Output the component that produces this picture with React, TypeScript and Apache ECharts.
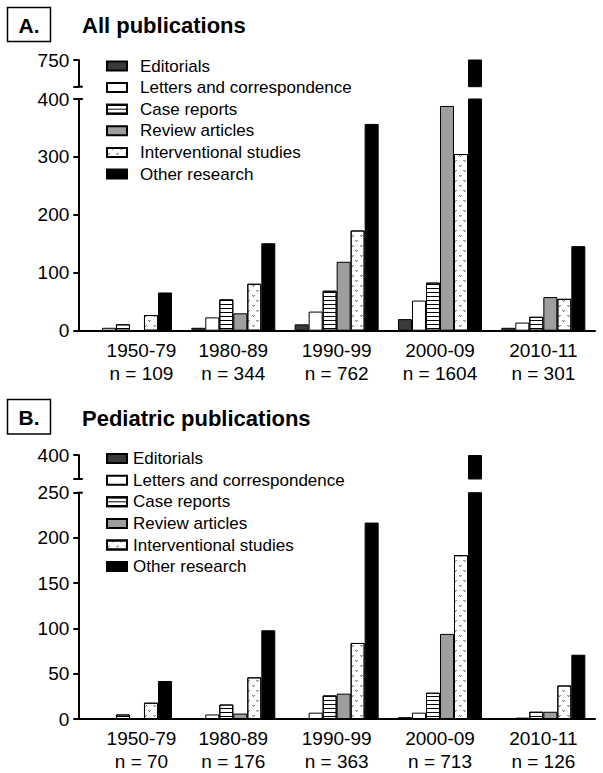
import React, { useEffect, useRef } from 'react';
import * as echarts from 'echarts';

const categories = ['1950-79', '1980-89', '1990-99', '2000-09', '2010-11'];
const allCounts = ['109', '344', '762', '1604', '301'];
const pedCounts = ['70', '176', '363', '713', '126'];
const seriesNames = [
  'Editorials',
  'Letters and correspondence',
  'Case reports',
  'Review articles',
  'Interventional studies',
  'Other research',
];

// Panel A: All publications
const allEditorials = [0, 5, 11, 20, 5];
const allLetters = [5, 23, 33, 52, 14];
const allCase = [11, 54, 69, 83, 24];
const allReview = [0, 30, 119, 388, 58];
const allInterv = [27, 81, 173, 305, 55];
const allOther = [66, 151, 357, 756, 146];

// Panel B: Pediatric publications
const pedEditorials = [0, 0, 0, 2, 0];
const pedLetters = [1, 5, 7, 7, 1.5];
const pedCase = [5, 16, 26, 29, 8];
const pedReview = [0, 6, 28, 94, 8];
const pedInterv = [18, 46, 84, 181, 37];
const pedOther = [42, 98, 217, 400, 71];

const allTicksLower = { min: 0, max: 400, interval: 100 };
const allTicksUpper = { min: 700, max: 750, interval: 50 };
const pedTicksLower = { min: 0, max: 250, interval: 50 };
const pedTicksUpper = { min: 375, max: 400, interval: 25 };

const FONT = "'Liberation Sans', Arial, Helvetica, sans-serif";

const stripes = {
  symbol: 'rect',
  symbolSize: 1,
  dashArrayX: [1, 0],
  dashArrayY: [0.9, 2.6],
  rotation: 0,
  color: '#000',
  backgroundColor: '#fff',
};
const dots = {
  symbol: 'path://M0 0 L2 3 L4 0 L3.2 0 L2 1.6 L0.8 0 Z',
  symbolSize: 1,
  symbolKeepAspect: false,
  dashArrayX: [[2.5, 5.5], [0, 4, 2.5, 1.5]],
  dashArrayY: [2, 3],
  rotation: 0,
  color: '#333',
  backgroundColor: '#fff',
};

const seriesStyles: any[] = [
  { color: '#3a3a3a' },
  { color: '#ffffff' },
  { color: '#ffffff', decal: stripes },
  { color: '#9e9e9e' },
  { color: '#ffffff', decal: dots },
  { color: '#000000' },
];

const GRID_LEFT = 78.3;
const GRID_RIGHT = 8;
const AXIS_X = GRID_LEFT;

function buildOption() {
  const grids = [
    { left: GRID_LEFT, right: GRID_RIGHT, top: 99, height: 231.7 },
    { left: GRID_LEFT, right: GRID_RIGHT, top: 60, height: 26.7 },
    { left: GRID_LEFT, right: GRID_RIGHT, top: 492.7, height: 229.6 },
    { left: GRID_LEFT, right: GRID_RIGHT, top: 455, height: 24 },
  ];

  const makeX = (gridIndex: number, counts: string[] | null) => ({
    type: 'category',
    gridIndex,
    data: categories,
    axisLine: counts
      ? { show: true, lineStyle: { color: '#000', width: 2 } }
      : { show: false },
    axisTick: { show: false },
    splitLine: { show: false },
    axisLabel: counts
      ? {
          show: true,
          interval: 0,
          margin: 8,
          color: '#000',
          fontFamily: FONT,
          fontSize: 19,
          lineHeight: 23,
          formatter: (v: string, i: number) =>
            i === 0
              ? `{o|${v}}\n{o|n = ${counts[i]}}`
              : `${v}\nn = ${counts[i]}`,
          rich: {
            o: {
              padding: [0, 0, 0, 23],
              fontFamily: FONT,
              fontSize: 19,
              lineHeight: 23,
              color: '#000',
            },
          },
        }
      : { show: false },
  });

  const makeY = (gridIndex: number, t: any, upper: boolean) => ({
    type: 'value',
    gridIndex,
    min: t.min,
    max: t.max,
    interval: t.interval,
    axisLine: { show: true, lineStyle: { color: '#000', width: 2 } },
    axisTick: { show: true, length: 5, lineStyle: { color: '#000', width: 2 } },
    splitLine: { show: false },
    axisLabel: {
      color: '#000',
      fontFamily: FONT,
      fontSize: 19,
      margin: 9,
      formatter: (v: number) => (upper && v !== t.max ? '' : String(v)),
    },
  });

  const xAxis = [
    makeX(0, allCounts),
    makeX(1, null),
    makeX(2, pedCounts),
    makeX(3, null),
  ];
  const yAxis = [
    makeY(0, allTicksLower, false),
    makeY(1, allTicksUpper, true),
    makeY(2, pedTicksLower, false),
    makeY(3, pedTicksUpper, true),
  ];

  const allData = [allEditorials, allLetters, allCase, allReview, allInterv, allOther];
  const pedData = [pedEditorials, pedLetters, pedCase, pedReview, pedInterv, pedOther];

  const series: any[] = [];
  const addSeries = (axisIndex: number, data: number[][], lowerMax: number, upper: boolean) => {
    data.forEach((vals, k) => {
      series.push({
        type: 'bar',
        name: seriesNames[k],
        xAxisIndex: axisIndex,
        yAxisIndex: axisIndex,
        barGap: '0%',
        barCategoryGap: '18.7%',
        clip: true,
        data: upper ? vals.map((v) => (v > lowerMax ? v : '-')) : vals,
        itemStyle: { ...seriesStyles[k], borderColor: '#000', borderWidth: 1 },
        emphasis: { disabled: true },
      });
    });
  };
  addSeries(0, allData, allTicksLower.max, false);
  addSeries(1, allData, allTicksLower.max, true);
  addSeries(2, pedData, pedTicksLower.max, false);
  addSeries(3, pedData, pedTicksLower.max, true);

  const legendBase = {
    orient: 'vertical',
    left: 101,
    icon: 'rect',
    itemWidth: 20,
    itemHeight: 9,
    itemGap: 3.6,
    selectedMode: false,
    data: seriesNames,
  };

  const legend = [
    {
      ...legendBase,
      top: 52,
      textStyle: {
        color: '#000',
        fontFamily: FONT,
        fontSize: 17,
        lineHeight: 18,
        padding: [0, 0, 0, 8],
      },
    },
    {
      ...legendBase,
      top: 444.6,
      textStyle: {
        color: '#000',
        fontFamily: FONT,
        fontSize: 17,
        lineHeight: 18,
        padding: [0, 0, 0, 1],
      },
    },
  ];

  const cap = (y: number) => ({
    type: 'line',
    shape: { x1: AXIS_X - 1, y1: y, x2: AXIS_X + 4.5, y2: y },
    style: { stroke: '#000', lineWidth: 2 },
    silent: true,
  });

  const graphic = [
    {
      type: 'rect',
      shape: { x: 7.5, y: 7.5, width: 43, height: 34 },
      style: { fill: 'none', stroke: '#000', lineWidth: 1.5 },
    },
    {
      type: 'text',
      x: 29,
      y: 25,
      style: {
        text: 'A.',
        fill: '#000',
        font: `bold 21px ${FONT}`,
        textAlign: 'center',
        textVerticalAlign: 'middle',
      },
    },
    {
      type: 'text',
      x: 82,
      y: 25,
      style: {
        text: 'All publications',
        fill: '#000',
        font: `bold 22px ${FONT}`,
        textAlign: 'left',
        textVerticalAlign: 'middle',
      },
    },
    {
      type: 'rect',
      shape: { x: 7.5, y: 399.5, width: 43, height: 34.5 },
      style: { fill: 'none', stroke: '#000', lineWidth: 1.5 },
    },
    {
      type: 'text',
      x: 29,
      y: 417,
      style: {
        text: 'B.',
        fill: '#000',
        font: `bold 21px ${FONT}`,
        textAlign: 'center',
        textVerticalAlign: 'middle',
      },
    },
    {
      type: 'text',
      x: 82,
      y: 418,
      style: {
        text: 'Pediatric publications',
        fill: '#000',
        font: `bold 22px ${FONT}`,
        textAlign: 'left',
        textVerticalAlign: 'middle',
      },
    },
    cap(99),
    cap(86.7),
    cap(492.7),
    cap(479),
  ];

  return {
    animation: false,
    backgroundColor: '#fff',
    textStyle: { fontFamily: FONT },
    grid: grids,
    xAxis,
    yAxis,
    legend,
    series,
    graphic,
  };
}

export default function App() {
  const ref = useRef<HTMLDivElement>(null);
  useEffect(() => {
    if (!ref.current) return;
    const chart = echarts.init(ref.current, null, { renderer: 'svg' });
    chart.setOption(buildOption() as any);
    return () => chart.dispose();
  }, []);
  return (
    <div
      ref={ref}
      style={{ position: 'absolute', left: 0, top: 0, width: 603, height: 773, background: '#fff' }}
    />
  );
}
